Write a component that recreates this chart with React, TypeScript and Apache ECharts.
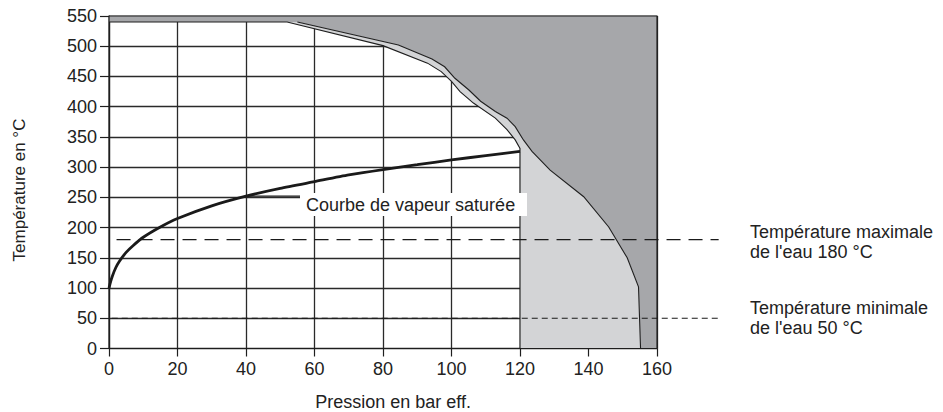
import React, { useEffect, useRef } from "react";
import * as echarts from "echarts";

// Saturated steam curve (pressure in bar g, temperature in °C)
const steamP = [0, 0.5, 1, 2, 3, 5, 7, 10, 15, 20, 30, 40, 50, 60, 70, 80, 90, 100, 110, 120];
const steamT = [100, 111, 120, 134, 144, 159, 170, 184, 201, 215, 236, 252, 265, 276, 287, 296, 304, 312, 319, 326];

// Inner boundary (white / light grey), top to bottom
const innerX = [52, 80, 93, 97, 100, 102.5, 106.4, 112.8, 116.2, 118.6, 120, 120];
const innerY = [540, 501, 472, 458, 442, 425, 406, 381, 362, 345, 331, 0];

// Outer boundary (light grey / dark grey), top to bottom
const outerX = [55, 84.5, 94.3, 98, 101, 105, 108.5, 112.8, 116.2, 118.6, 121, 123.5, 128.8, 138.6, 145.9, 151.3, 154.6, 155.2];
const outerY = [540, 502, 479, 466, 447, 428, 409, 392, 381, 367, 345, 326, 295, 251, 201, 150, 102, 0];

// Top band limit
const bandY = 540;

// Reference temperature lines
const maxLineX = [2.2, 178];
const maxLineY = [180, 180];
const minLineX = [0.8, 178];
const minLineY = [50, 50];

// Leader line of the saturated steam label
const leaderX = [40, 56];
const leaderY = [252, 252];

const xTicks = [0, 20, 40, 60, 80, 100, 120, 140, 160];
const yTicks = [0, 50, 100, 150, 200, 250, 300, 350, 400, 450, 500, 550];

const FONT = '"Liberation Sans", Arial, sans-serif';
const TXT = "#222";

export default function App() {
  const ref = useRef<HTMLDivElement>(null);
  useEffect(() => {
    if (!ref.current) return;
    const chart = echarts.init(ref.current, null, { renderer: "svg" });
    const xMin = xTicks[0];
    const xMax = xTicks[xTicks.length - 1];
    const yMin = yTicks[0];
    const yMax = yTicks[yTicks.length - 1];

    const renderRegions = (params: any, api: any) => {
      const pt = (x: number, y: number) => api.coord([x, y]);
      const outerPts = outerX.map((x, i) => pt(x, outerY[i]));
      const innerPts = innerX.map((x, i) => pt(x, innerY[i]));
      const outerRev = outerPts.slice().reverse();
      const dark = [pt(xMin, yMax), pt(xMax, yMax), pt(xMax, yMin), ...outerRev, pt(xMin, bandY)];
      const light = [...innerPts, ...outerRev];
      const innerLine = [pt(xMin, bandY), ...innerPts];
      const frame = [pt(xMin, yMin), pt(xMin, yMax), pt(xMax, yMax), pt(xMax, yMin), pt(xMin, yMin)];
      return {
        type: "group",
        children: [
          { type: "polygon", shape: { points: dark }, style: { fill: "#a6a7aa", stroke: "none" } },
          { type: "polygon", shape: { points: light }, style: { fill: "#d3d4d6", stroke: "none" } },
          { type: "polyline", shape: { points: innerLine }, style: { fill: "none", stroke: "#1e1e1e", lineWidth: 1.1 } },
          { type: "polyline", shape: { points: outerPts }, style: { fill: "none", stroke: "#1e1e1e", lineWidth: 1.1 } },
          { type: "polyline", shape: { points: frame }, style: { fill: "none", stroke: "#1e1e1e", lineWidth: 1.2 } },
        ],
      };
    };

    const renderDashed = (params: any, api: any) => {
      const pt = (x: number, y: number) => api.coord([x, y]);
      const a1 = pt(maxLineX[0], maxLineY[0]);
      const a2 = pt(maxLineX[1], maxLineY[1]);
      const b1 = pt(minLineX[0], minLineY[0]);
      const b2 = pt(minLineX[1], minLineY[1]);
      return {
        type: "group",
        children: [
          {
            type: "line",
            shape: { x1: a1[0], y1: a1[1], x2: a2[0], y2: a2[1] },
            style: { stroke: "#1a1a1a", lineWidth: 1.2, lineDash: [14, 8] },
          },
          {
            type: "line",
            shape: { x1: b1[0], y1: b1[1], x2: b2[0], y2: b2[1] },
            style: { stroke: "#1a1a1a", lineWidth: 1.2, lineDash: [6, 4] },
          },
        ],
      };
    };

    const option: any = {
      animation: false,
      backgroundColor: "#ffffff",
      grid: { left: 109, top: 16, width: 548, height: 332.5, containLabel: false },
      xAxis: {
        type: "value",
        min: xMin,
        max: xMax,
        interval: 20,
        axisLine: { show: true, lineStyle: { color: "#1e1e1e", width: 1.2 } },
        axisTick: { show: true, length: 8, lineStyle: { color: "#1e1e1e", width: 1.2 } },
        axisLabel: { fontSize: 18, fontFamily: FONT, color: TXT, margin: 11 },
        splitLine: { show: true, lineStyle: { color: "#2a2a2a", width: 1.3 } },
      },
      yAxis: {
        type: "value",
        min: yMin,
        max: yMax,
        interval: 50,
        axisLine: { show: true, lineStyle: { color: "#1e1e1e", width: 1.2 } },
        axisTick: { show: true, length: 9, lineStyle: { color: "#1e1e1e", width: 1.2 } },
        axisLabel: { fontSize: 18, fontFamily: FONT, color: TXT, margin: 12 },
        splitLine: { show: true, lineStyle: { color: "#2a2a2a", width: 1.3 } },
      },
      series: [
        {
          type: "custom",
          z: 3,
          clip: false,
          silent: true,
          data: [[xMin, yMin]],
          renderItem: renderRegions,
        },
        {
          type: "line",
          z: 5,
          symbol: "none",
          smooth: 0.2,
          data: steamP.map((p, i) => [p, steamT[i]]),
          lineStyle: { color: "#1a1a1a", width: 2.8 },
        },
        {
          type: "line",
          z: 5,
          symbol: "none",
          data: leaderX.map((x, i) => [x, leaderY[i]]),
          lineStyle: { color: "#1a1a1a", width: 1.2 },
        },
        {
          type: "custom",
          z: 6,
          clip: false,
          silent: true,
          data: [[xMin, yMin]],
          renderItem: renderDashed,
        },
      ],
      graphic: [
        {
          type: "group",
          z: 100,
          children: [
            { type: "rect", z: 100, shape: { x: 300, y: 193, width: 227, height: 23 }, style: { fill: "#ffffff" } },
            {
              type: "text",
              z: 101,
              x: 306,
              y: 204.5,
              style: { text: "Courbe de vapeur saturée", font: `18px ${FONT}`, fill: TXT, align: "left", verticalAlign: "middle" },
            },
          ],
        },
        {
          type: "text",
          z: 100,
          x: 750,
          y: 241.5,
          style: { text: "Température maximale\nde l'eau 180 °C", font: `18px ${FONT}`, fill: TXT, align: "left", verticalAlign: "middle", lineHeight: 20 },
        },
        {
          type: "text",
          z: 100,
          x: 750,
          y: 318,
          style: { text: "Température minimale\nde l'eau 50 °C", font: `18px ${FONT}`, fill: TXT, align: "left", verticalAlign: "middle", lineHeight: 20 },
        },
        {
          type: "text",
          z: 100,
          x: 393,
          y: 402,
          style: { text: "Pression en bar eff.", font: `18px ${FONT}`, fill: TXT, align: "center", verticalAlign: "middle" },
        },
        {
          type: "text",
          z: 100,
          x: 19,
          y: 190,
          rotation: Math.PI / 2,
          style: { text: "Température en °C", font: `17px ${FONT}`, fill: TXT, align: "center", verticalAlign: "middle" },
        },
      ],
    };
    chart.setOption(option);
    return () => chart.dispose();
  }, []);
  return <div ref={ref} style={{ position: "fixed", left: 0, top: 0, width: 943, height: 412 }} />;
}
